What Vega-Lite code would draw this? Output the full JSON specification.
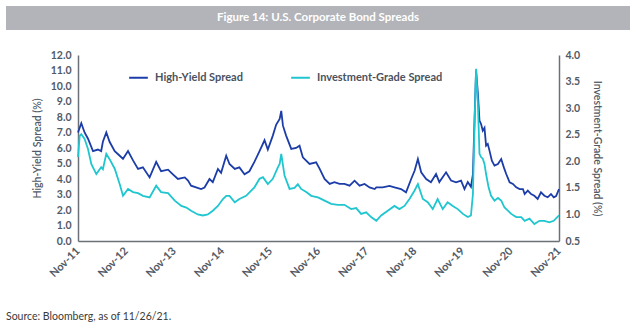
{
  "$schema": "https://vega.github.io/schema/vega-lite/v6.json",
  "padding": {"left": 6, "top": 6, "right": 5, "bottom": 1},
  "background": "white",
  "config": {"font": "Lato", "view": {"stroke": null}},
  "title": {"text": "Source: Bloomberg, as of 11/26/21.", "orient": "bottom", "anchor": "start", "frame": "bounds", "fontSize": 10.5, "fontWeight": "normal", "color": "#3a3a3a", "offset": 33},
  "spacing": 20,
  "datasets": {
    "hy": [
      {"d": "2011-11-25", "v": 7.0}, {"d": "2011-12-20", "v": 7.6}, {"d": "2012-01-14", "v": 7.0}, {"d": "2012-02-09", "v": 6.6},
      {"d": "2012-03-18", "v": 5.8}, {"d": "2012-04-24", "v": 5.9}, {"d": "2012-05-19", "v": 5.8}, {"d": "2012-06-01", "v": 6.4},
      {"d": "2012-06-27", "v": 7.0}, {"d": "2012-07-22", "v": 6.4}, {"d": "2012-08-30", "v": 5.8}, {"d": "2012-10-07", "v": 5.5},
      {"d": "2012-11-01", "v": 5.3}, {"d": "2012-12-09", "v": 5.8}, {"d": "2013-01-16", "v": 5.2}, {"d": "2013-02-23", "v": 4.65},
      {"d": "2013-04-01", "v": 4.75}, {"d": "2013-05-22", "v": 4.1}, {"d": "2013-07-11", "v": 5.1}, {"d": "2013-08-17", "v": 4.5},
      {"d": "2013-10-09", "v": 4.6}, {"d": "2013-11-15", "v": 4.3}, {"d": "2013-12-23", "v": 4.0}, {"d": "2014-02-13", "v": 4.1},
      {"d": "2014-03-10", "v": 3.9}, {"d": "2014-04-02", "v": 3.57}, {"d": "2014-05-10", "v": 3.46}, {"d": "2014-06-17", "v": 3.35},
      {"d": "2014-07-13", "v": 3.45}, {"d": "2014-08-20", "v": 4.0}, {"d": "2014-09-14", "v": 3.8}, {"d": "2014-10-23", "v": 4.65},
      {"d": "2014-11-16", "v": 4.4}, {"d": "2014-12-25", "v": 5.5}, {"d": "2015-01-19", "v": 4.97}, {"d": "2015-02-28", "v": 4.65},
      {"d": "2015-04-04", "v": 4.75}, {"d": "2015-05-13", "v": 4.3}, {"d": "2015-06-19", "v": 4.5}, {"d": "2015-07-27", "v": 5.1},
      {"d": "2015-09-04", "v": 5.8}, {"d": "2015-10-12", "v": 6.5}, {"d": "2015-11-06", "v": 5.9}, {"d": "2015-12-14", "v": 6.8},
      {"d": "2016-01-08", "v": 7.5}, {"d": "2016-02-04", "v": 7.87}, {"d": "2016-02-16", "v": 8.4}, {"d": "2016-02-29", "v": 7.44},
      {"d": "2016-03-24", "v": 6.8}, {"d": "2016-05-02", "v": 5.94}, {"d": "2016-06-08", "v": 6.0}, {"d": "2016-07-04", "v": 6.15},
      {"d": "2016-07-29", "v": 5.4}, {"d": "2016-09-18", "v": 4.97}, {"d": "2016-11-07", "v": 5.08}, {"d": "2016-12-04", "v": 4.65},
      {"d": "2017-01-10", "v": 4.0}, {"d": "2017-02-18", "v": 3.68}, {"d": "2017-03-26", "v": 3.8}, {"d": "2017-05-04", "v": 3.68},
      {"d": "2017-06-10", "v": 3.68}, {"d": "2017-07-19", "v": 3.57}, {"d": "2017-08-26", "v": 3.89}, {"d": "2017-10-03", "v": 3.57},
      {"d": "2017-11-10", "v": 3.68}, {"d": "2017-12-18", "v": 3.46}, {"d": "2018-01-26", "v": 3.35}, {"d": "2018-02-07", "v": 3.46},
      {"d": "2018-03-28", "v": 3.46}, {"d": "2018-05-18", "v": 3.55}, {"d": "2018-06-25", "v": 3.46}, {"d": "2018-08-14", "v": 3.35},
      {"d": "2018-09-21", "v": 3.14}, {"d": "2018-10-30", "v": 4.0}, {"d": "2018-11-25", "v": 4.53}, {"d": "2018-12-20", "v": 5.29},
      {"d": "2019-01-14", "v": 4.43}, {"d": "2019-02-21", "v": 4.0}, {"d": "2019-03-29", "v": 3.79}, {"d": "2019-05-07", "v": 4.32},
      {"d": "2019-06-01", "v": 3.8}, {"d": "2019-07-22", "v": 4.43}, {"d": "2019-08-29", "v": 3.9}, {"d": "2019-10-06", "v": 3.79},
      {"d": "2019-11-13", "v": 3.9}, {"d": "2019-12-09", "v": 3.35}, {"d": "2020-01-03", "v": 3.8}, {"d": "2020-01-27", "v": 3.5},
      {"d": "2020-02-11", "v": 4.3}, {"d": "2020-02-24", "v": 8.0}, {"d": "2020-03-06", "v": 11.0}, {"d": "2020-03-20", "v": 9.5},
      {"d": "2020-04-01", "v": 7.76}, {"d": "2020-04-13", "v": 7.55}, {"d": "2020-04-26", "v": 7.12}, {"d": "2020-05-09", "v": 7.3},
      {"d": "2020-05-21", "v": 6.15}, {"d": "2020-06-03", "v": 6.26}, {"d": "2020-06-16", "v": 5.83}, {"d": "2020-07-04", "v": 5.18},
      {"d": "2020-07-24", "v": 4.86}, {"d": "2020-08-19", "v": 4.97}, {"d": "2020-09-13", "v": 5.29}, {"d": "2020-10-03", "v": 4.75},
      {"d": "2020-10-21", "v": 4.32}, {"d": "2020-11-16", "v": 3.79}, {"d": "2020-12-11", "v": 3.68}, {"d": "2021-01-05", "v": 3.46},
      {"d": "2021-01-31", "v": 3.35}, {"d": "2021-02-25", "v": 3.35}, {"d": "2021-03-10", "v": 3.03}, {"d": "2021-04-03", "v": 3.25},
      {"d": "2021-04-28", "v": 3.03}, {"d": "2021-05-23", "v": 2.92}, {"d": "2021-06-17", "v": 2.71}, {"d": "2021-07-12", "v": 3.14},
      {"d": "2021-08-07", "v": 2.92}, {"d": "2021-09-01", "v": 2.82}, {"d": "2021-09-26", "v": 3.03}, {"d": "2021-10-17", "v": 2.82},
      {"d": "2021-11-04", "v": 2.9}, {"d": "2021-11-26", "v": 3.35}
    ],
    "ig": [
      {"d": "2011-11-25", "v": 2.08}, {"d": "2011-12-08", "v": 2.48}, {"d": "2011-12-20", "v": 2.51}, {"d": "2012-01-14", "v": 2.42},
      {"d": "2012-02-09", "v": 2.23}, {"d": "2012-03-05", "v": 1.95}, {"d": "2012-04-12", "v": 1.76}, {"d": "2012-05-19", "v": 1.89},
      {"d": "2012-06-01", "v": 1.85}, {"d": "2012-06-27", "v": 2.14}, {"d": "2012-07-22", "v": 2.04}, {"d": "2012-08-30", "v": 1.86},
      {"d": "2012-10-07", "v": 1.57}, {"d": "2012-11-01", "v": 1.35}, {"d": "2012-12-09", "v": 1.48}, {"d": "2013-01-16", "v": 1.42},
      {"d": "2013-02-23", "v": 1.4}, {"d": "2013-04-01", "v": 1.35}, {"d": "2013-05-22", "v": 1.32}, {"d": "2013-07-11", "v": 1.54},
      {"d": "2013-08-17", "v": 1.42}, {"d": "2013-10-09", "v": 1.4}, {"d": "2013-11-29", "v": 1.26}, {"d": "2014-01-18", "v": 1.16},
      {"d": "2014-02-25", "v": 1.13}, {"d": "2014-04-02", "v": 1.07}, {"d": "2014-05-23", "v": 1.0}, {"d": "2014-06-30", "v": 0.98},
      {"d": "2014-08-07", "v": 1.0}, {"d": "2014-09-14", "v": 1.07}, {"d": "2014-10-23", "v": 1.16}, {"d": "2014-11-30", "v": 1.29},
      {"d": "2014-12-25", "v": 1.35}, {"d": "2015-01-19", "v": 1.35}, {"d": "2015-02-28", "v": 1.23}, {"d": "2015-04-04", "v": 1.29},
      {"d": "2015-05-25", "v": 1.35}, {"d": "2015-07-27", "v": 1.51}, {"d": "2015-09-04", "v": 1.67}, {"d": "2015-09-30", "v": 1.7},
      {"d": "2015-11-06", "v": 1.57}, {"d": "2015-12-14", "v": 1.67}, {"d": "2016-01-22", "v": 1.89}, {"d": "2016-02-04", "v": 1.95},
      {"d": "2016-02-16", "v": 2.14}, {"d": "2016-03-12", "v": 1.73}, {"d": "2016-04-19", "v": 1.48}, {"d": "2016-05-27", "v": 1.5},
      {"d": "2016-06-21", "v": 1.57}, {"d": "2016-07-16", "v": 1.48}, {"d": "2016-08-24", "v": 1.42}, {"d": "2016-10-01", "v": 1.35},
      {"d": "2016-11-21", "v": 1.32}, {"d": "2017-01-10", "v": 1.26}, {"d": "2017-03-01", "v": 1.2}, {"d": "2017-04-21", "v": 1.18},
      {"d": "2017-06-10", "v": 1.18}, {"d": "2017-07-31", "v": 1.1}, {"d": "2017-09-07", "v": 1.12}, {"d": "2017-10-15", "v": 1.01},
      {"d": "2017-11-22", "v": 1.04}, {"d": "2017-12-30", "v": 0.95}, {"d": "2018-02-07", "v": 0.88}, {"d": "2018-03-16", "v": 0.98},
      {"d": "2018-05-05", "v": 1.07}, {"d": "2018-06-25", "v": 1.16}, {"d": "2018-08-02", "v": 1.1}, {"d": "2018-09-09", "v": 1.16},
      {"d": "2018-10-17", "v": 1.29}, {"d": "2018-11-25", "v": 1.45}, {"d": "2018-12-20", "v": 1.57}, {"d": "2019-01-27", "v": 1.29},
      {"d": "2019-03-05", "v": 1.23}, {"d": "2019-04-12", "v": 1.1}, {"d": "2019-05-19", "v": 1.29}, {"d": "2019-06-27", "v": 1.1},
      {"d": "2019-08-03", "v": 1.23}, {"d": "2019-09-11", "v": 1.16}, {"d": "2019-10-19", "v": 1.1}, {"d": "2019-11-27", "v": 1.01},
      {"d": "2020-01-03", "v": 0.95}, {"d": "2020-01-27", "v": 0.98}, {"d": "2020-02-11", "v": 1.38}, {"d": "2020-02-24", "v": 2.76},
      {"d": "2020-03-06", "v": 3.74}, {"d": "2020-03-20", "v": 3.08}, {"d": "2020-04-01", "v": 2.14}, {"d": "2020-04-13", "v": 2.08},
      {"d": "2020-04-26", "v": 2.05}, {"d": "2020-05-09", "v": 1.95}, {"d": "2020-05-21", "v": 1.76}, {"d": "2020-06-09", "v": 1.51},
      {"d": "2020-06-28", "v": 1.35}, {"d": "2020-07-24", "v": 1.26}, {"d": "2020-08-19", "v": 1.31}, {"d": "2020-09-13", "v": 1.26},
      {"d": "2020-10-08", "v": 1.13}, {"d": "2020-11-03", "v": 1.07}, {"d": "2020-11-28", "v": 1.01}, {"d": "2021-01-05", "v": 0.95},
      {"d": "2021-02-12", "v": 0.95}, {"d": "2021-03-10", "v": 0.88}, {"d": "2021-04-16", "v": 0.92}, {"d": "2021-05-23", "v": 0.82},
      {"d": "2021-06-30", "v": 0.88}, {"d": "2021-08-07", "v": 0.88}, {"d": "2021-09-14", "v": 0.85}, {"d": "2021-10-17", "v": 0.88},
      {"d": "2021-11-26", "v": 0.98}
    ]
  },
  "vconcat": [
    {
      "width": 624,
      "height": 24,
      "view": {"fill": "#b2b4b9", "stroke": null},
      "data": {"values": [{"t": "Figure 14: U.S. Corporate Bond Spreads"}]},
      "mark": {"type": "text", "color": "white", "fontWeight": "bold", "fontSize": 11.5, "font": "Lato"},
      "encoding": {"text": {"field": "t", "type": "nominal"}}
    },
    {
      "spacing": 0,
      "hconcat": [
        {
          "width": 26,
          "height": 186,
          "data": {"values": []},
          "mark": "point",
          "encoding": {}
        },
        {
          "width": 481,
          "height": 186,
          "encoding": {
            "x": {
              "field": "d",
              "type": "temporal",
              "scale": {"type": "utc", "domain": [{"year": 2011, "month": 11, "date": 25, "utc": true}, {"year": 2021, "month": 11, "date": 26, "utc": true}]},
              "axis": {
                "title": null,
                "format": "%b-%y",
                "values": [
                  {"year": 2011, "month": 11, "date": 25, "utc": true}, {"year": 2012, "month": 11, "date": 25, "utc": true},
                  {"year": 2013, "month": 11, "date": 25, "utc": true}, {"year": 2014, "month": 11, "date": 25, "utc": true},
                  {"year": 2015, "month": 11, "date": 25, "utc": true}, {"year": 2016, "month": 11, "date": 25, "utc": true},
                  {"year": 2017, "month": 11, "date": 25, "utc": true}, {"year": 2018, "month": 11, "date": 25, "utc": true},
                  {"year": 2019, "month": 11, "date": 25, "utc": true}, {"year": 2020, "month": 11, "date": 25, "utc": true},
                  {"year": 2021, "month": 11, "date": 25, "utc": true}
                ],
                "labelAngle": -45,
                "labelAlign": "right",
                "labelBaseline": "middle",
                "labelPadding": 8,
                "labelFontSize": 11,
                "labelFontWeight": "bold",
                "labelColor": "#515a66",
                "labelOverlap": false,
                "ticks": false,
                "grid": false,
                "domainColor": "#6b7079",
                "domainWidth": 1.5
              }
            }
          },
          "layer": [
            {
              "data": {"name": "hy"},
              "mark": {"type": "line", "strokeWidth": 1.8, "interpolate": "linear"},
              "encoding": {
                "y": {
                  "field": "v",
                  "type": "quantitative",
                  "scale": {"domain": [0, 12], "nice": false, "zero": false},
                  "axis": {
                    "orient": "left",
                    "title": "High-Yield Spread (%)",
                    "values": [0, 1, 2, 3, 4, 5, 6, 7, 8, 9, 10, 11, 12],
                    "format": ".1f",
                    "ticks": false,
                    "grid": false,
                    "domainColor": "#6b7079",
                    "domainWidth": 1.5,
                    "labelPadding": 7,
                    "labelFontSize": 10.5,
                    "labelFontWeight": "bold",
                    "labelColor": "#515a66",
                    "titleFontSize": 10.5,
                    "titleFontWeight": 600,
                    "titleColor": "#515a66",
                    "titlePadding": 8
                  }
                },
                "color": {
                  "datum": "High-Yield Spread",
                  "type": "nominal",
                  "scale": {"domain": ["High-Yield Spread", "Investment-Grade Spread"], "range": ["#1c3da8", "#1fc6cf"]},
                  "legend": {
                    "orient": "none",
                    "legendX": 122,
                    "legendY": 61,
                    "direction": "horizontal",
                    "title": null,
                    "padding": 0,
                    "symbolType": "stroke",
                    "symbolSize": 350,
                    "symbolStrokeWidth": 2,
                    "labelFontSize": 11,
                    "labelFontWeight": "bold",
                    "labelColor": "#4a5260",
                    "labelOffset": 6,
                    "labelLimit": 300,
                    "columnPadding": 44
                  }
                }
              }
            },
            {
              "data": {"name": "ig"},
              "mark": {"type": "line", "strokeWidth": 1.8, "interpolate": "linear"},
              "encoding": {
                "y": {
                  "field": "v",
                  "type": "quantitative",
                  "scale": {"domain": [0.5, 4], "nice": false, "zero": false},
                  "axis": {
                    "orient": "right",
                    "title": "Investment-Grade Spread (%)",
                    "values": [0.5, 1, 1.5, 2, 2.5, 3, 3.5, 4],
                    "format": ".1f",
                    "ticks": false,
                    "grid": false,
                    "domainColor": "#6b7079",
                    "domainWidth": 1.5,
                    "labelPadding": 6,
                    "labelFontSize": 10.5,
                    "labelFontWeight": "bold",
                    "labelColor": "#515a66",
                    "titleFontSize": 10.5,
                    "titleFontWeight": 600,
                    "titleColor": "#515a66",
                    "titlePadding": 12
                  }
                },
                "color": {"datum": "Investment-Grade Spread", "type": "nominal"}
              }
            }
          ],
          "resolve": {"scale": {"y": "independent"}}
        }
      ]
    }
  ]
}
